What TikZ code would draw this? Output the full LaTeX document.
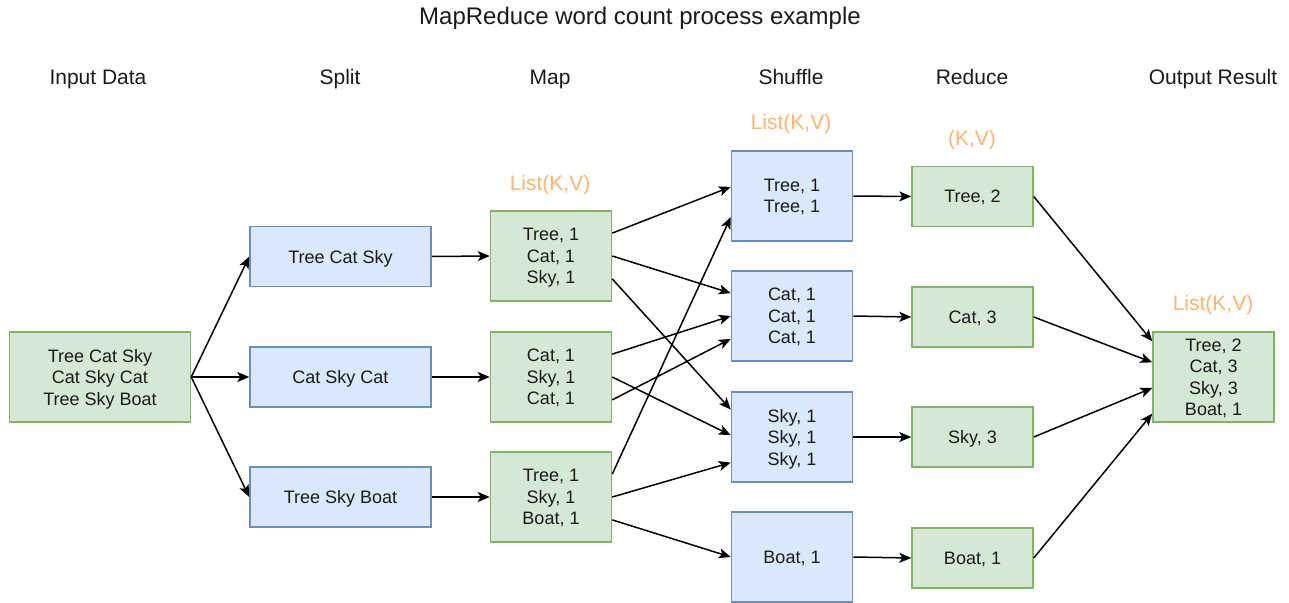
\documentclass[tikz,border=0pt]{standalone}
\usepackage{fontspec}
\setmainfont{Liberation Sans}
\usetikzlibrary{calc,arrows.meta}
\definecolor{gfill}{HTML}{D5E8D4}
\definecolor{gline}{HTML}{82B366}
\definecolor{bfill}{HTML}{DAE8FC}
\definecolor{bline}{HTML}{6C8EBF}
\definecolor{kv}{HTML}{FFB570}
\definecolor{ink}{HTML}{1A1A1A}

\begin{document}
\begin{tikzpicture}[x=1pt,y=-1pt,
  box/.style={draw, line width=1.5pt, align=center, inner sep=0pt,
    font=\fontsize{18}{21.5}\selectfont, text=ink, text depth=0pt},
  gbox/.style={box, fill=gfill, draw=gline},
  bbox/.style={box, fill=bfill, draw=bline},
  wide/.style={minimum width=181pt},
  narrow/.style={minimum width=121pt},
  tall/.style={minimum height=90pt},
  short/.style={minimum height=60pt},
  hdr/.style={font=\fontsize{21}{25}\selectfont, text=ink,
    text height=15pt, text depth=0pt, inner sep=0pt},
  ttl/.style={font=\fontsize{24}{28}\selectfont, text=ink,
    text height=17pt, text depth=0pt, inner sep=0pt},
  kvlabel/.style={font=\fontsize{21}{25}\selectfont, text=kv,
    text height=15pt, text depth=0pt, inner sep=0pt},
  link/.style={line width=1.5pt, draw=black,
    -{Stealth[length=12pt,width=10pt,inset=3pt]}},
]
\useasboundingbox (0,0) rectangle (1289,602);

% titles and column headers
\node[ttl] (title) at (640,16) {MapReduce word count process example};
\node[hdr] (hin)  at (98,76.5)   {Input Data};
\node[hdr] (hsp)  at (340,76.5)  {Split};
\node[hdr] (hmap) at (550,76.5)  {Map};
\node[hdr] (hsh)  at (791,76.5)  {Shuffle};
\node[hdr] (hred) at (972,76.5)  {Reduce};
\node[hdr] (hout) at (1213,76.5) {Output Result};

% key/value type labels
\node[kvlabel] (kvmap) at (550,183)  {List(K,V)};
\node[kvlabel] (kvsh)  at (791,122)  {List(K,V)};
\node[kvlabel] (kvred) at (972,138)  {(K,V)};
\node[kvlabel] (kvout) at (1213,303) {List(K,V)};

% input
\node[gbox, wide, tall] (in) at (100,377) {Tree Cat Sky\\Cat Sky Cat\\Tree Sky Boat};

% split
\node[bbox, wide, short] (s1) at (340.5,256.5) {Tree Cat Sky};
\node[bbox, wide, short] (s2) at (340.5,377)   {Cat Sky Cat};
\node[bbox, wide, short] (s3) at (340.5,497)   {Tree Sky Boat};

% map
\node[gbox, narrow, tall] (m1) at (551,256) {Tree, 1\\Cat, 1\\Sky, 1};
\node[gbox, narrow, tall] (m2) at (551,377) {Cat, 1\\Sky, 1\\Cat, 1};
\node[gbox, narrow, tall] (m3) at (551,497) {Tree, 1\\Sky, 1\\Boat, 1};

% shuffle
\node[bbox, narrow, tall] (sh1) at (792,196) {Tree, 1\\Tree, 1};
\node[bbox, narrow, tall] (sh2) at (792,316) {Cat, 1\\Cat, 1\\Cat, 1};
\node[bbox, narrow, tall] (sh3) at (792,437) {Sky, 1\\Sky, 1\\Sky, 1};
\node[bbox, narrow, tall] (sh4) at (792,557) {Boat, 1};

% reduce
\node[gbox, narrow, short] (r1) at (972.5,196.5) {Tree, 2};
\node[gbox, narrow, short] (r2) at (972.5,317)   {Cat, 3};
\node[gbox, narrow, short] (r3) at (972.5,437)   {Sky, 3};
\node[gbox, narrow, short] (r4) at (972.5,558)   {Boat, 1};

% output
\node[gbox, narrow, tall] (out) at (1213.5,377) {Tree, 2\\Cat, 3\\Sky, 3\\Boat, 1};

% input -> split
\draw[link] (in.east) -- (s1.west);
\draw[link] (in.east) -- (s2.west);
\draw[link] (in.east) -- (s3.west);

% split -> map
\draw[link] (s1.east) -- (m1.west);
\draw[link] (s2.east) -- (m2.west);
\draw[link] (s3.east) -- (m3.west);

% map -> shuffle
\draw[link] ($(m1.north east)!0.25!(m1.south east)$) -- ($(sh1.north west)!0.4!(sh1.south west)$);
\draw[link] ($(m1.north east)!0.5!(m1.south east)$)  -- ($(sh2.north west)!0.25!(sh2.south west)$);
\draw[link] ($(m1.north east)!0.75!(m1.south east)$) -- ($(sh3.north west)!0.2!(sh3.south west)$);
\draw[link] ($(m2.north east)!0.25!(m2.south east)$) -- ($(sh2.north west)!0.5!(sh2.south west)$);
\draw[link] ($(m2.north east)!0.5!(m2.south east)$)  -- ($(sh3.north west)!0.48!(sh3.south west)$);
\draw[link] ($(m2.north east)!0.75!(m2.south east)$) -- ($(sh2.north west)!0.75!(sh2.south west)$);
\draw[link] ($(m3.north east)!0.25!(m3.south east)$) -- ($(sh1.north west)!0.73!(sh1.south west)$);
\draw[link] ($(m3.north east)!0.5!(m3.south east)$)  -- ($(sh3.north west)!0.78!(sh3.south west)$);
\draw[link] ($(m3.north east)!0.75!(m3.south east)$) -- (sh4.west);

% shuffle -> reduce
\draw[link] (sh1.east) -- (r1.west);
\draw[link] (sh2.east) -- (r2.west);
\draw[link] (sh3.east) -- (r3.west);
\draw[link] (sh4.east) -- (r4.west);

% reduce -> output
\draw[link] (r1.east) -- ($(out.north west)!0.11!(out.south west)$);
\draw[link] (r2.east) -- ($(out.north west)!0.34!(out.south west)$);
\draw[link] (r3.east) -- ($(out.north west)!0.62!(out.south west)$);
\draw[link] (r4.east) -- ($(out.north west)!0.9!(out.south west)$);
\end{tikzpicture}
\end{document}
